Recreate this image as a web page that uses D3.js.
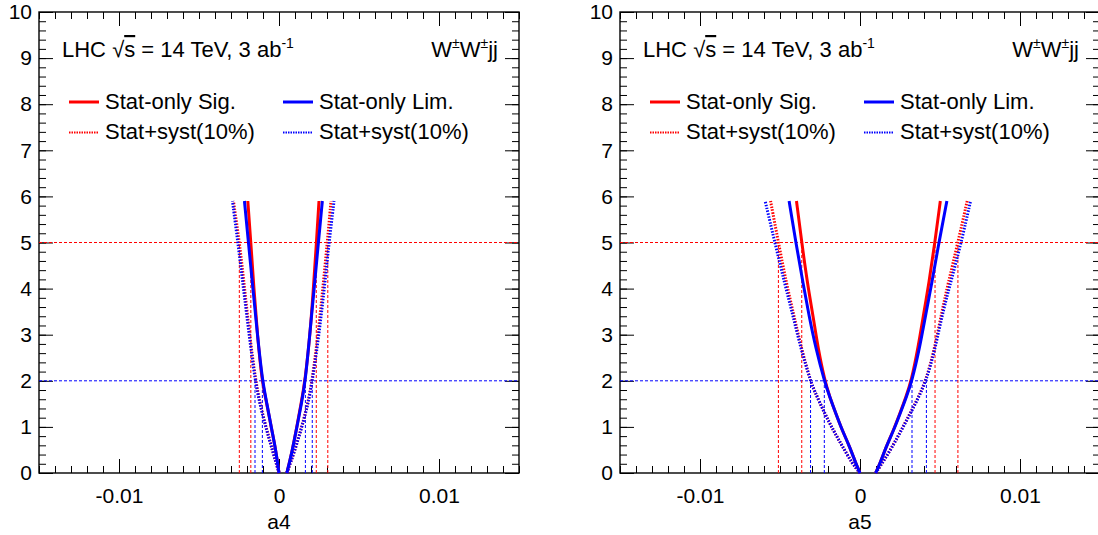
<!DOCTYPE html>
<html>
<head>
<meta charset="utf-8">
<script src="https://cdn.jsdelivr.net/npm/d3@7/dist/d3.min.js"></script>
<style>
  html, body { margin: 0; padding: 0; background: #fff; }
  svg { display: block; }
  text { font-family: "Liberation Sans", Arial, Helvetica, sans-serif; fill: #000; }
</style>
</head>
<body>
<svg id="chart" width="1098" height="535"></svg>
<script>
// ---- data ----------------------------------------------------------------
// significance / limit curves as [coupling, sigma] pairs, left branch then right branch

// a4 panel
const a4SigStat = [[-0.00195, 5.9], [-0.00176, 5], [-0.00157, 4], [-0.00135, 3], [-0.00107, 2], [-0.00076, 1.5], [-0.00049, 1], [-0.0002, 0.5], [0, 0],
  [0.00049, 0], [0.00084, 0.5], [0.00111, 1], [0.00138, 1.5], [0.00163, 2], [0.00194, 3], [0.00215, 4], [0.00234, 5], [0.0025, 5.9]];
const a4LimStat = [[-0.00216, 5.9], [-0.00191, 5], [-0.00163, 4], [-0.00135, 3], [-0.00104, 2], [-0.00075, 1.5], [-0.00049, 1], [-0.0002, 0.5], [0, 0],
  [0.00049, 0], [0.00084, 0.5], [0.00112, 1], [0.0014, 1.5], [0.00165, 2], [0.00192, 3], [0.0022, 4], [0.00246, 5], [0.00271, 5.9]];
const a4SigSyst = [[-0.00285, 5.9], [-0.00247, 5], [-0.00215, 4], [-0.00184, 3], [-0.00146, 2], [-0.00118, 1.5], [-0.00082, 1], [-0.00041, 0.5], [0, 0],
  [0.00049, 0], [0.001, 0.5], [0.00142, 1], [0.0018, 1.5], [0.00207, 2], [0.00244, 3], [0.00274, 4], [0.00302, 5], [0.00325, 5.9]];
const a4LimSyst = [[-0.00291, 5.9], [-0.00257, 5], [-0.00222, 4], [-0.00187, 3], [-0.00149, 2], [-0.0012, 1.5], [-0.00083, 1], [-0.00042, 0.5], [0, 0],
  [0.00049, 0], [0.001, 0.5], [0.00143, 1], [0.00182, 1.5], [0.00209, 2], [0.0025, 3], [0.00283, 4], [0.00313, 5], [0.00344, 5.9]];
const a4SigCross = [-0.00248, -0.00176, 0.00233, 0.00305];
const a4LimCross = [-0.0015, -0.00104, 0.00165, 0.00208];

// a5 panel
const a5SigStat = [[-0.00397, 5.9], [-0.00364, 5], [-0.00328, 4.1], [-0.00293, 3.4], [-0.00262, 2.7], [-0.0022, 2], [-0.00189, 1.65],
  [-0.00152, 1.3], [-0.00108, 0.9], [-0.00068, 0.6], [-0.00025, 0.2], [0, 0],
  [0.00098, 0], [0.00124, 0.2], [0.00167, 0.6], [0.00206, 0.9], [0.0025, 1.3], [0.00287, 1.65], [0.00321, 2], [0.00362, 2.7],
  [0.004, 3.5], [0.0043, 4.1], [0.00468, 5], [0.00502, 5.9]];
const a5LimStat = [[-0.00443, 5.9], [-0.00401, 5], [-0.00355, 4.1], [-0.00318, 3.4], [-0.00276, 2.7], [-0.00223, 2], [-0.00189, 1.65],
  [-0.00152, 1.3], [-0.00108, 0.9], [-0.00068, 0.6], [-0.00025, 0.2], [0, 0],
  [0.00098, 0], [0.00124, 0.2], [0.00167, 0.6], [0.00207, 0.9], [0.00252, 1.3], [0.0029, 1.65], [0.00325, 2], [0.00372, 2.7],
  [0.00414, 3.5], [0.00448, 4.1], [0.00493, 5], [0.00543, 5.9]];
const a5SigSyst = [[-0.00559, 5.9], [-0.0051, 5], [-0.00459, 4.1], [-0.00412, 3.4], [-0.00366, 2.7], [-0.0031, 2], [-0.00287, 1.8],
  [-0.00222, 1.3], [-0.00163, 0.9], [-0.00113, 0.6], [-0.00048, 0.2], [0, 0],
  [0.00098, 0], [0.00192, 0.5], [0.00268, 1], [0.00345, 1.5], [0.00413, 2], [0.00466, 2.7], [0.00512, 3.5], [0.0055, 4.1],
  [0.00612, 5], [0.0067, 5.9]];
const a5LimSyst = [[-0.00593, 5.9], [-0.00532, 5], [-0.0047, 4.1], [-0.00418, 3.4], [-0.0037, 2.7], [-0.00309, 2], [-0.00287, 1.8],
  [-0.00222, 1.3], [-0.00163, 0.9], [-0.00113, 0.6], [-0.00048, 0.2], [0, 0],
  [0.00098, 0], [0.00192, 0.5], [0.0027, 1], [0.00347, 1.5], [0.00415, 2], [0.0047, 2.7], [0.00518, 3.5], [0.00572, 4.2],
  [0.00633, 5], [0.00691, 5.9]];
const a5SigCross = [-0.0051, -0.00364, 0.00469, 0.00612];
const a5LimCross = [-0.00309, -0.00223, 0.00325, 0.00415];

const sigLevel = 5;
const limLevel = 2;

const xTicks = [-0.01, 0, 0.01];
const xTickLabels = ['-0.01', '0', '0.01'];
const yTicks = [0, 1, 2, 3, 4, 5, 6, 7, 8, 9, 10];
const legendLabels = ['Stat-only Sig.', 'Stat-only Lim.', 'Stat+syst(10%)', 'Stat+syst(10%)'];

const RED = '#ff0000', BLUE = '#0000ff';

const panels = [
  { left: 39, right: 519, title: 'a4', sigStat: a4SigStat, limStat: a4LimStat, sigSyst: a4SigSyst, limSyst: a4LimSyst, sigCross: a4SigCross, limCross: a4LimCross },
  { left: 620, right: 1100, title: 'a5', sigStat: a5SigStat, limStat: a5LimStat, sigSyst: a5SigSyst, limSyst: a5LimSyst, sigCross: a5SigCross, limCross: a5LimCross },
];
const TOP = 12, BOTTOM = 473;

// split a curve at its zero points into a left and a right branch,
// both ordered from the axis upwards
function branches(pts) {
  const firstZero = pts.findIndex(d => d[1] === 0);
  let lastZero = firstZero;
  while (lastZero + 1 < pts.length && pts[lastZero + 1][1] === 0) lastZero++;
  return [pts.slice(0, firstZero + 1).reverse(), pts.slice(lastZero)];
}

const svg = d3.select('#chart');

panels.forEach((p) => {
  const g = svg.append('g');
  const x = d3.scaleLinear().domain([-0.015, 0.015]).range([p.left, p.right]);
  const y = d3.scaleLinear().domain([0, 10]).range([BOTTOM, TOP]);

  const xMinor = d3.range(-15, 16).map(d => d / 1000);
  const yMinor = d3.range(0, 51).map(d => d / 5);
  const noDomain = (sel) => sel.select('.domain').remove();

  // ticks, inward on all four sides (ROOT style)
  g.append('g').attr('transform', `translate(0,${BOTTOM})`)
    .call(d3.axisBottom(x).tickValues(xMinor).tickSize(-7).tickFormat('')).call(noDomain);
  g.append('g').attr('transform', `translate(0,${BOTTOM})`)
    .call(d3.axisBottom(x).tickValues(xTicks).tickSize(-14).tickPadding(15)
      .tickFormat((d, i) => xTickLabels[i])).call(noDomain);
  g.append('g').attr('transform', `translate(0,${TOP})`)
    .call(d3.axisTop(x).tickValues(xMinor).tickSize(-7).tickFormat('')).call(noDomain);
  g.append('g').attr('transform', `translate(0,${TOP})`)
    .call(d3.axisTop(x).tickValues(xTicks).tickSize(-14).tickFormat('')).call(noDomain);

  g.append('g').attr('transform', `translate(${p.left},0)`)
    .call(d3.axisLeft(y).tickValues(yMinor).tickSize(-7).tickFormat('')).call(noDomain);
  g.append('g').attr('transform', `translate(${p.left},0)`)
    .call(d3.axisLeft(y).tickValues(yTicks).tickSize(-14).tickPadding(7).tickFormat(d3.format('d'))).call(noDomain);
  g.append('g').attr('transform', `translate(${p.right},0)`)
    .call(d3.axisRight(y).tickValues(yMinor).tickSize(-7).tickFormat('')).call(noDomain);
  g.append('g').attr('transform', `translate(${p.right},0)`)
    .call(d3.axisRight(y).tickValues(yTicks).tickSize(-14).tickFormat('')).call(noDomain);

  g.selectAll('.tick line').attr('stroke', '#000').attr('stroke-width', 1);
  g.selectAll('.tick text').style('font-size', '21px')
    .style('font-family', '"Liberation Sans", Arial, sans-serif').attr('fill', '#000');

  // frame
  g.append('rect')
    .attr('x', p.left).attr('y', TOP)
    .attr('width', p.right - p.left).attr('height', BOTTOM - TOP)
    .attr('fill', 'none').attr('stroke', '#000').attr('stroke-width', 1.4);

  // axis title
  g.append('text')
    .attr('x', (p.left + p.right) / 2).attr('y', 529)
    .attr('text-anchor', 'middle').style('font-size', '21px')
    .text(p.title);

  // threshold lines
  const ref = g.append('g').attr('fill', 'none').attr('stroke-width', 1).attr('stroke-dasharray', '3,2');
  ref.append('line').attr('x1', p.left).attr('x2', p.right)
    .attr('y1', y(sigLevel)).attr('y2', y(sigLevel)).attr('stroke', RED);
  ref.append('line').attr('x1', p.left).attr('x2', p.right)
    .attr('y1', y(limLevel)).attr('y2', y(limLevel)).attr('stroke', BLUE);
  p.sigCross.forEach((c) => {
    ref.append('line').attr('x1', x(c)).attr('x2', x(c))
      .attr('y1', y(0)).attr('y2', y(sigLevel)).attr('stroke', RED);
  });
  p.limCross.forEach((c) => {
    ref.append('line').attr('x1', x(c)).attr('x2', x(c))
      .attr('y1', y(0)).attr('y2', y(limLevel)).attr('stroke', BLUE);
  });

  // curves (B-spline smooths out reading noise)
  const line = d3.line().x(d => x(d[0])).y(d => y(d[1])).curve(d3.curveBasis);
  const curves = [
    { data: p.sigStat, color: RED, dotted: false },
    { data: p.sigSyst, color: RED, dotted: true },
    { data: p.limStat, color: BLUE, dotted: false },
    { data: p.limSyst, color: BLUE, dotted: true },
  ];
  curves.forEach((c) => {
    branches(c.data).forEach((b) => {
      g.append('path')
        .attr('d', line(b))
        .attr('fill', 'none')
        .attr('stroke', c.color)
        .attr('stroke-width', 3)
        .attr('stroke-dasharray', c.dotted ? '1.5,1.5' : null);
    });
  });

  // header texts
  const hdr = g.append('text').attr('x', p.left + 23).attr('y', 57).style('font-size', '22px');
  hdr.append('tspan').text('LHC ');
  hdr.append('tspan').text('√');
  hdr.append('tspan').style('text-decoration', 'overline').text('s');
  hdr.append('tspan').text(' = 14 TeV, 3 ab');
  hdr.append('tspan').attr('dy', -9).style('font-size', '14px').text('-1');

  const proc = g.append('text').attr('x', p.right - 21).attr('y', 57)
    .attr('text-anchor', 'end').style('font-size', '22px');
  proc.append('tspan').text('W');
  proc.append('tspan').attr('dy', -9).style('font-size', '14px').text('±');
  proc.append('tspan').attr('dy', 9).text('W');
  proc.append('tspan').attr('dy', -9).style('font-size', '14px').text('±');
  proc.append('tspan').attr('dy', 9).text('jj');

  // legend
  const legendItems = [
    { label: legendLabels[0], color: RED, dotted: false, col: 0, row: 0 },
    { label: legendLabels[1], color: BLUE, dotted: false, col: 1, row: 0 },
    { label: legendLabels[2], color: RED, dotted: true, col: 0, row: 1 },
    { label: legendLabels[3], color: BLUE, dotted: true, col: 1, row: 1 },
  ];
  legendItems.forEach((it) => {
    const lx = p.left + (it.col === 0 ? 30 : 244);
    const by = 108.5 + it.row * 30.5;
    g.append('line')
      .attr('x1', lx).attr('x2', lx + 30)
      .attr('y1', by - 6.5).attr('y2', by - 6.5)
      .attr('stroke', it.color)
      .attr('stroke-width', it.dotted ? 2 : 3)
      .attr('stroke-dasharray', it.dotted ? '1.5,1' : null);
    g.append('text')
      .attr('x', lx + 36).attr('y', by)
      .style('font-size', '22px')
      .text(it.label);
  });
});
</script>
</body>
</html>
